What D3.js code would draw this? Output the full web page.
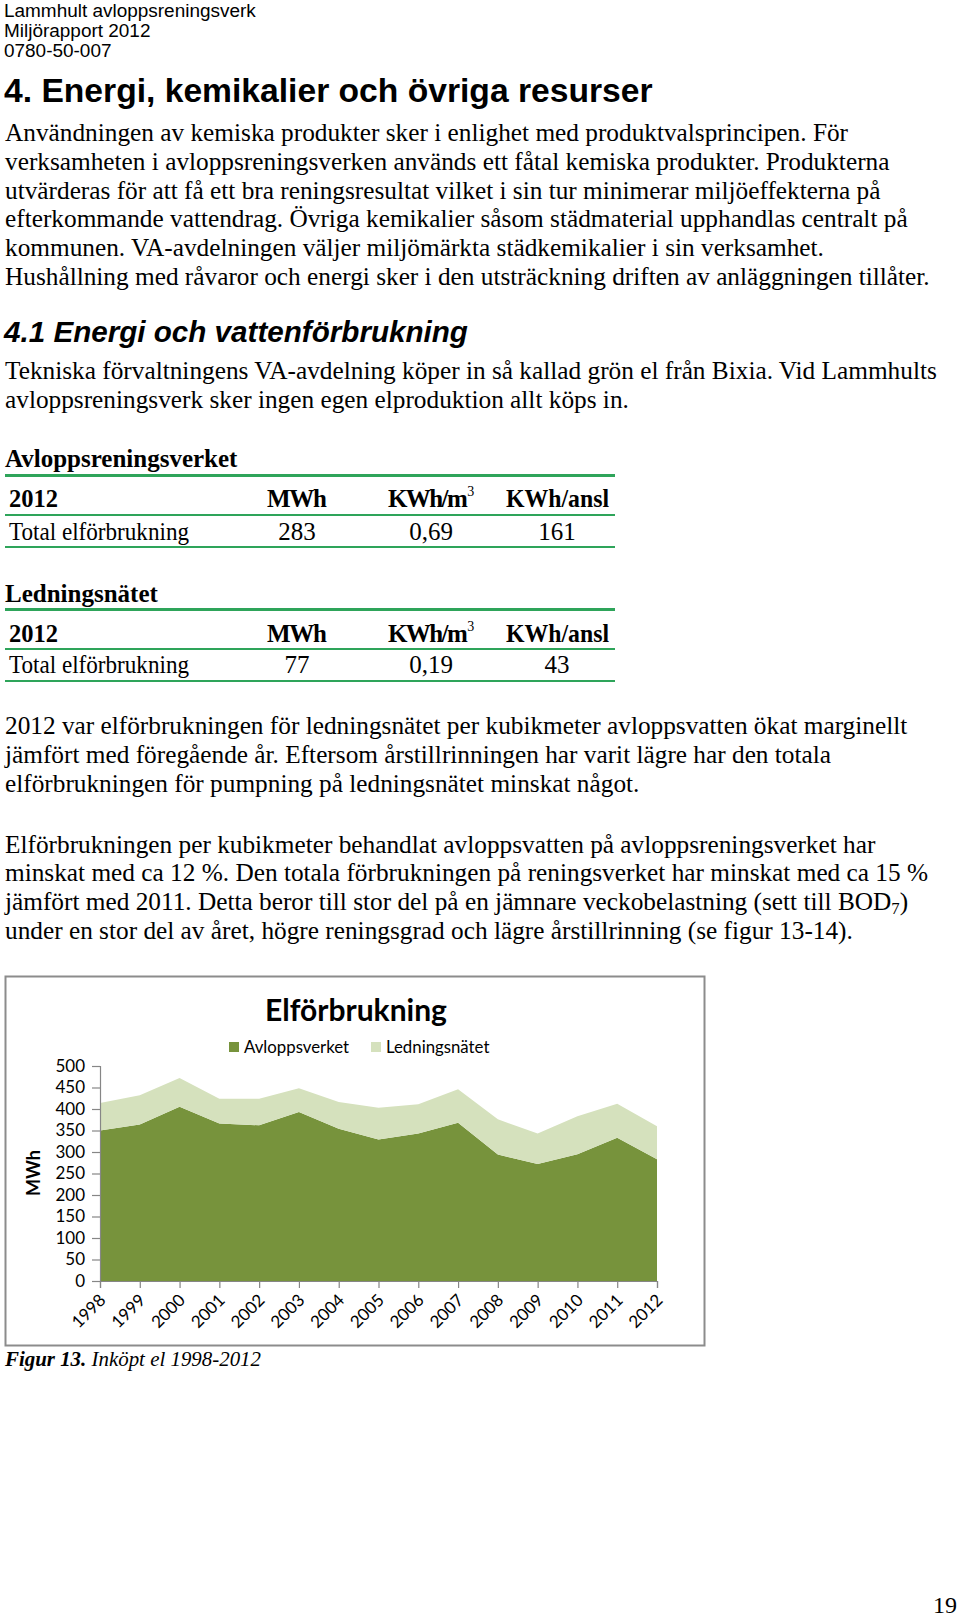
<!DOCTYPE html>
<html><head><meta charset="utf-8">
<script src="https://cdn.jsdelivr.net/npm/d3@7/dist/d3.min.js"></script>
<style>html,body{margin:0;padding:0;background:#fff}svg{display:block}</style>
</head><body>
<svg id="page" width="960" height="1619"></svg>
<script>
// ---------- data ----------
const years = [1998,1999,2000,2001,2002,2003,2004,2005,2006,2007,2008,2009,2010,2011,2012];
const avloppsverket = [350,364,405,366,362,393,354,329,343,368,294,272,295,333,283];
const ledningsnatet = [64,68,67,58,62,55,62,74,68,78,82,71,88,79,77];
const seriesNames = ["Avloppsverket","Ledningsnätet"];
const yTicks = [0,50,100,150,200,250,300,350,400,450,500];
const chartTitle = "Elförbrukning";
const yAxisTitle = "MWh";

const headerLines = ["Lammhult avloppsreningsverk","Miljörapport 2012","0780-50-007"];
const heading = "4. Energi, kemikalier och övriga resurser";
const para1 = [
 "Användningen av kemiska produkter sker i enlighet med produktvalsprincipen. För",
 "verksamheten i avloppsreningsverken används ett fåtal kemiska produkter. Produkterna",
 "utvärderas för att få ett bra reningsresultat vilket i sin tur minimerar miljöeffekterna på",
 "efterkommande vattendrag. Övriga kemikalier såsom städmaterial upphandlas centralt på",
 "kommunen. VA-avdelningen väljer miljömärkta städkemikalier i sin verksamhet.",
 "Hushållning med råvaror och energi sker i den utsträckning driften av anläggningen tillåter."
];
const subheading = "4.1 Energi och vattenförbrukning";
const para2 = [
 "Tekniska förvaltningens VA-avdelning köper in så kallad grön el från Bixia. Vid Lammhults",
 "avloppsreningsverk sker ingen egen elproduktion allt köps in."
];
const tableTitles = ["Avloppsreningsverket","Ledningsnätet"];
const tableHeader = ["2012","MWh","KWh/m","KWh/ansl"];
const tableRows = [
 ["Total elförbrukning","283","0,69","161"],
 ["Total elförbrukning","77","0,19","43"]
];
const para3 = [
 "2012 var elförbrukningen för ledningsnätet per kubikmeter avloppsvatten ökat marginellt",
 "jämfört med föregående år. Eftersom årstillrinningen har varit lägre har den totala",
 "elförbrukningen för pumpning på ledningsnätet minskat något."
];
const para4 = [
 "Elförbrukningen per kubikmeter behandlat avloppsvatten på avloppsreningsverket har",
 "minskat med ca 12 %. Den totala förbrukningen på reningsverket har minskat med ca 15 %",
 "jämfört med 2011. Detta beror till stor del på en jämnare veckobelastning (sett till BOD",
 "under en stor del av året, högre reningsgrad och lägre årstillrinning (se figur 13-14)."
];
const captionBold = "Figur 13.";
const captionRest = " Inköpt el 1998-2012";
const pageNumber = "19";

// ---------- helpers ----------
const svg = d3.select("#page");
const SERIF = "'Liberation Serif','Times New Roman',serif";
const SANS = "'Liberation Sans',Arial,sans-serif";
const CHART = "Lato,'Open Sans',sans-serif";

function unitWidth(str, family, weight, style){
  const t = svg.append("text").attr("font-family",family).attr("font-weight",weight||"normal")
    .attr("font-style",style||"normal").attr("font-size",100).text(str);
  const w = t.node().getComputedTextLength(); t.remove(); return w/100;
}
function fit(str, family, weight, style, width){ return width/unitWidth(str,family,weight,style); }

// ---------- page header ----------
const hSize = fit(headerLines[0], SANS, "normal", "normal", 252);
svg.selectAll("text.hdr").data(headerLines).join("text").attr("class","hdr")
  .attr("x",4).attr("y",(d,i)=>[16.7,36.7,56.8][i])
  .attr("font-family",SANS).attr("font-size",hSize).attr("fill","#000").text(d=>d);

svg.append("text").attr("x",4).attr("y",101.5).attr("font-family",SANS).attr("font-weight","bold")
  .attr("font-size",fit(heading,SANS,"bold","normal",649)).text(heading);

// body font size
const bSize = fit(para1[5], SERIF, "normal", "normal", 925);
function para(lines, ys){
  svg.append("g").selectAll("text").data(lines).join("text")
    .attr("x",5).attr("y",(d,i)=>ys[i]).attr("font-family",SERIF).attr("font-size",bSize)
    .attr("fill","#000").text(d=>d);
}
para(para1,[141,169.8,198.5,227.2,256,284.7]);

svg.append("text").attr("x",4).attr("y",341.7).attr("font-family",SANS).attr("font-weight","bold")
  .attr("font-style","italic").attr("font-size",fit(subheading,SANS,"bold","italic",464)).text(subheading);

para(para2,[379,408]);

// ---------- tables ----------
const GREEN = "#2ea45a";
const colCenters = [null,297,431,557];
const tables = [
  {title:tableTitles[0], titleY:466.7, thickY:475.5, headY:506.7, line1:515, rowY:540, line2:547, row:tableRows[0]},
  {title:tableTitles[1], titleY:601.7, thickY:609.5, headY:641.7, line1:649, rowY:673.3, line2:681, row:tableRows[1]}
];
const tg = svg.append("g").attr("font-family",SERIF).attr("fill","#000");
tables.forEach(t=>{
  tg.append("text").attr("x",5).attr("y",t.titleY).attr("font-weight","bold").attr("font-size",25).text(t.title);
  tg.append("line").attr("x1",5).attr("x2",615).attr("y1",t.thickY).attr("y2",t.thickY).attr("stroke",GREEN).attr("stroke-width",3.2);
  tg.append("line").attr("x1",5).attr("x2",615).attr("y1",t.line1).attr("y2",t.line1).attr("stroke",GREEN).attr("stroke-width",2);
  tg.append("line").attr("x1",5).attr("x2",615).attr("y1",t.line2).attr("y2",t.line2).attr("stroke",GREEN).attr("stroke-width",2);
  // header row
  tg.append("text").attr("x",9).attr("y",t.headY).attr("font-weight","bold").attr("font-size",25)
    .attr("textLength",49).attr("lengthAdjust","spacingAndGlyphs").text(tableHeader[0]);
  tg.append("text").attr("x",267).attr("y",t.headY).attr("font-weight","bold").attr("font-size",25)
    .attr("textLength",60).attr("lengthAdjust","spacing").text(tableHeader[1]);
  const k = tg.append("text").attr("x",388).attr("y",t.headY).attr("font-weight","bold").attr("font-size",25);
  k.append("tspan").attr("letter-spacing",-1.6).text(tableHeader[2]);
  k.append("tspan").attr("dx",1).attr("dy",-11).attr("font-size",14).attr("font-weight","normal").text("3");
  tg.append("text").attr("x",506).attr("y",t.headY).attr("font-weight","bold").attr("font-size",25)
    .attr("textLength",103).attr("lengthAdjust","spacingAndGlyphs").text(tableHeader[3]);
  // value row
  tg.append("text").attr("x",9).attr("y",t.rowY).attr("font-size",25)
    .attr("textLength",180).attr("lengthAdjust","spacingAndGlyphs").text(t.row[0]);
  for(let c=1;c<4;c++){
    tg.append("text").attr("x",colCenters[c]).attr("y",t.rowY).attr("font-size",25)
      .attr("text-anchor","middle").text(t.row[c]);
  }
});

para(para3,[734,762.8,791.5]);
// para4 with BOD7 subscript
const p4 = svg.append("g").attr("font-family",SERIF).attr("font-size",bSize);
const p4y = [852.5,881,910,939];
para4.forEach((l,i)=>{
  const t = p4.append("text").attr("x",5).attr("y",p4y[i]).text(l);
  if(i===2){
    t.append("tspan").attr("font-size",bSize*0.66).attr("dy",4).text("7");
    t.append("tspan").attr("dy",-4).text(")");
  }
});

// ---------- chart ----------
const box = {x:5, y:976, w:699, h:369};
svg.append("rect").attr("x",box.x+0.5).attr("y",box.y+0.5).attr("width",box.w).attr("height",box.h)
  .attr("fill","#fff").attr("stroke","#8c8c8c").attr("stroke-width",2);

const x = d3.scaleLinear().domain([years[0], years[years.length-1]]).range([100,657]);
const y = d3.scaleLinear().domain([0,500]).range([1281,1066]);

const rows = years.map((yr,i)=>({year:yr, [seriesNames[0]]:avloppsverket[i], [seriesNames[1]]:ledningsnatet[i]}));
const stacked = d3.stack().keys(seriesNames)(rows);
const colors = ["#77933c","#d5e1bd"];
const area = d3.area().x(d=>x(d.data.year)).y0(d=>y(d[0])).y1(d=>y(d[1]));
const cg = svg.append("g");
cg.selectAll("path.area").data(stacked).join("path").attr("class","area")
  .attr("d",area).attr("fill",(d,i)=>colors[i]);

// axes
const AX = "#868686";
const yAxis = d3.axisLeft(y).tickValues(yTicks).tickSize(8).tickPadding(7).tickFormat(d3.format("d"));
const yg = cg.append("g").attr("transform","translate(100,0)").call(yAxis);
yg.select(".domain").attr("stroke",AX).attr("stroke-width",1.2);
yg.selectAll(".tick line").attr("stroke",AX).attr("stroke-width",1.2);
yg.selectAll(".tick text").attr("font-family",CHART).attr("font-size",17).attr("fill","#000");

const xAxis = d3.axisBottom(x).tickValues(years).tickSize(7).tickFormat(d3.format("d"));
const xg = cg.append("g").attr("transform","translate(0,1281)").call(xAxis);
xg.select(".domain").attr("stroke",AX).attr("stroke-width",1.2);
xg.selectAll(".tick line").attr("stroke",AX).attr("stroke-width",1.2);
xg.selectAll(".tick text").attr("font-family",CHART).attr("font-size",17).attr("fill","#000")
  .attr("text-anchor","end").attr("dy","0.35em").attr("y",0)
  .attr("transform","translate(2,16) rotate(-45)");

cg.append("text").attr("transform","translate(40,1173) rotate(-90)").attr("text-anchor","middle")
  .attr("font-family",CHART).attr("font-weight","bold").attr("font-size",18).text(yAxisTitle);

cg.append("text").attr("x",356).attr("y",1021).attr("text-anchor","middle").attr("font-family",CHART)
  .attr("font-weight","bold").attr("font-size",30).attr("fill","#000").text(chartTitle);

// legend
const legX = [229,371];
const lg = cg.append("g").selectAll("g").data(seriesNames).join("g")
  .attr("transform",(d,i)=>`translate(${legX[i]},1047)`);
lg.append("rect").attr("x",0).attr("y",-5).attr("width",10).attr("height",10).attr("fill",(d,i)=>colors[i]);
lg.append("text").attr("x",15).attr("y",5.8).attr("font-family",CHART).attr("font-size",16.8).text(d=>d);

// caption
const cap = svg.append("text").attr("x",5).attr("y",1366).attr("font-family",SERIF).attr("font-style","italic")
  .attr("font-size",22).attr("textLength",256).attr("lengthAdjust","spacingAndGlyphs");
cap.append("tspan").attr("font-weight","bold").text(captionBold);
cap.append("tspan").text(captionRest);

// page number
svg.append("text").attr("x",957).attr("y",1613).attr("text-anchor","end").attr("font-family",SERIF)
  .attr("font-size",24).text(pageNumber);
</script>
</body></html>
